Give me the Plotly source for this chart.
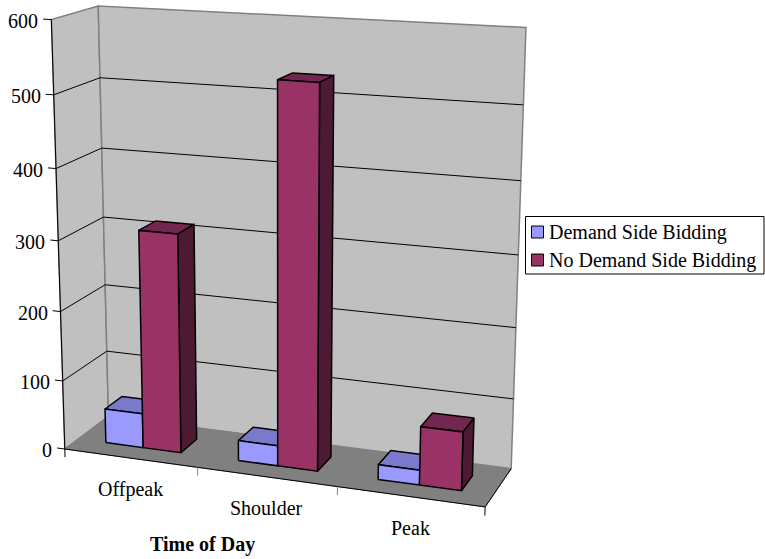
import numpy as np
import plotly.graph_objects as go

categories = ["Offpeak", "Shoulder", "Peak"]
series_names = ["Demand Side Bidding", "No Demand Side Bidding"]
demand_side = [50, 29, 21]
no_demand_side = [313, 531, 82]
value_ticks = [0, 100, 200, 300, 400, 500, 600]
x_axis_title = "Time of Day"

W, H = 765, 559
# Perspective of the chart box: unit x (categories), unit y (depth), value / 600 -> page pixels
CAMERA = np.array([
    [383.2219, 48.8885, -16.44276, 64.80442],
    [19.10191, -12.47331, -430.6103, 449.0413],
    [-0.07648061, 0.04859426, -0.05858185, 1.0],
])
MARGIN, DEPTH0, DEPTH1 = 0.2138, 0.3013, 0.6978
ZT = max(value_ticks)
BAR_W = (1 - 2 * MARGIN) / 2


def xy(pts):
    pts = np.asarray(pts, float)
    h = np.c_[pts[:, 0], pts[:, 1], pts[:, 2] / ZT, np.ones(len(pts))]
    q = h @ CAMERA.T
    return q[:, :2] / q[:, 2:3]


fig = go.Figure()


def poly(pts, fill, line="#000000", lw=1.5):
    a = xy(list(pts) + [pts[0]])
    fig.add_trace(go.Scatter(x=a[:, 0], y=a[:, 1], mode="lines", fill="toself", fillcolor=fill,
                             line=dict(color=line, width=lw), hoverinfo="skip", showlegend=False))


def seg(q1, q2, color="#000000", lw=1):
    a = xy([q1, q2])
    fig.add_trace(go.Scatter(x=a[:, 0], y=a[:, 1], mode="lines", line=dict(color=color, width=lw),
                             hoverinfo="skip", showlegend=False))


poly([(0, 0, 0), (0, 1, 0), (0, 1, ZT), (0, 0, ZT)], "#C0C0C0", "#808080", 1.5)
poly([(0, 1, 0), (1, 1, 0), (1, 1, ZT), (0, 1, ZT)], "#C0C0C0", "#808080", 1.5)
for v in value_ticks[1:-1]:
    seg((0, 0, v), (0, 1, v))
    seg((0, 1, v), (1, 1, v))
poly([(0, 0, 0), (1, 0, 0), (1, 1, 0), (0, 1, 0)], "#808080", "#808080", 1)
seg((0, 0, 0), (1, 0, 0))
seg((1, 0, 0), (1, 1, 0))
seg((0, 0, 0), (0, 0, ZT))
for v in value_ticks:
    seg((0, 0, v), (-0.02, 0, v))
for j in range(4):
    seg((j / 3, 0, 0), (j / 3, 0, -12), "#000000" if j in (0, 3) else "#808080")

palette = [("#9999FF", "#7A7ACC", "#4D4D80"), ("#993366", "#732650", "#4D1A33")]
for i in range(len(categories)):
    for k, vals in enumerate([demand_side, no_demand_side]):
        a = (i + MARGIN + k * BAR_W) / 3
        b = (i + MARGIN + (k + 1) * BAR_W) / 3
        v = vals[i]
        cf, ct, cs = palette[k]
        poly([(a, DEPTH0, v), (b, DEPTH0, v), (b, DEPTH1, v), (a, DEPTH1, v)], ct)
        poly([(b, DEPTH0, 0), (b, DEPTH1, 0), (b, DEPTH1, v), (b, DEPTH0, v)], cs)
        poly([(a, DEPTH0, 0), (b, DEPTH0, 0), (b, DEPTH0, v), (a, DEPTH0, v)], cf)

FONT = dict(family="Liberation Serif", size=20, color="#000000")
anns = []
for v in value_ticks:
    q = xy([(0, 0, v)])[0]
    anns.append(dict(x=q[0] - 11, y=q[1] + 1, xref="x", yref="y", text=str(v), showarrow=False,
                     xanchor="right", font=FONT))
for j, name in enumerate(categories):
    q = xy([((j + .5) / 3, 0, 0)])[0]
    anns.append(dict(x=q[0], y=q[1] + 31, xref="x", yref="y", text=name, showarrow=False, font=FONT))
anns.append(dict(x=202, y=544, xref="x", yref="y", text="<b>%s</b>" % x_axis_title, showarrow=False, font=FONT))

shapes = [dict(type="rect", x0=525.5, y0=216.5, x1=764, y1=274, line=dict(color="#000000", width=1),
               fillcolor="white", layer="above")]
for name, col, yy in zip(series_names, ["#9999FF", "#993366"], [232, 260]):
    shapes.append(dict(type="rect", x0=531.5, x1=543.5, y0=yy - 6, y1=yy + 6, line=dict(color="#000000", width=1),
                       fillcolor=col, layer="above"))
    anns.append(dict(x=547, y=yy, xref="x", yref="y", text=name, showarrow=False, xanchor="left", font=FONT))

fig.update_layout(width=W, height=H, margin=dict(l=0, r=0, t=0, b=0), paper_bgcolor="white", plot_bgcolor="white",
                  showlegend=False,
                  xaxis=dict(range=[0, W], visible=False, fixedrange=True),
                  yaxis=dict(range=[H, 0], visible=False, fixedrange=True),
                  annotations=anns, shapes=shapes)
fig.write_html("out.html", config=dict(displayModeBar=False),
               post_script="document.body.style.margin='0';document.body.style.overflow='hidden';")
